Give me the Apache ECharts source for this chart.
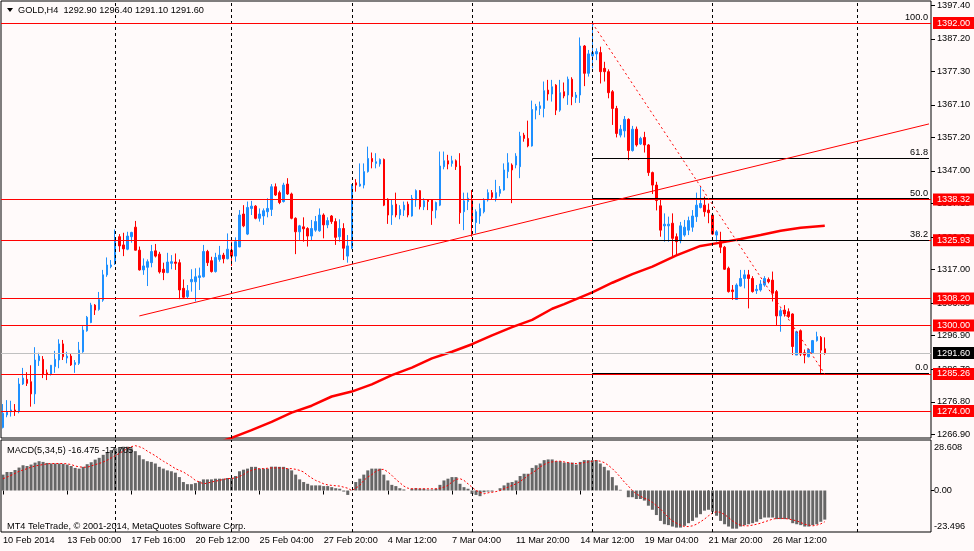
<!DOCTYPE html>
<html>
<head>
<meta charset="utf-8">
<title>GOLD,H4</title>
<script src="https://cdn.jsdelivr.net/npm/echarts@6.0.0/dist/echarts.min.js"></script>
<style>
  html, body { margin: 0; padding: 0; background: #FFFAFA; }
  #chart { width: 974px; height: 551px; }
</style>
</head>
<body>
<div id="chart"></div>
<script>
(function() {
  'use strict';

  var FONT = '"Liberation Sans", Arial, sans-serif';
  var FS = 9.2;
  var BAR_SLOTS = 232; // bars that fit in the window, data fills the first 206

  // H4 candles, [open, close, low, high]
  var ohlc = [
    [1269.0,1273.3,1268.7,1276.1],[1272.8,1273.8,1272.1,1277.3],[1273.8,1274.3,1272.3,1277.1],[1274.3,1273.9,1272.5,1276.1],
    [1273.8,1282.2,1273.3,1284.0],[1282.2,1284.0,1281.9,1287.1],[1283.6,1282.4,1281.6,1285.8],[1282.9,1279.2,1275.3,1287.9],
    [1279.2,1289.5,1276.1,1293.4],[1289.3,1290.7,1287.7,1291.7],[1289.7,1285.1,1284.0,1290.7],[1285.6,1285.2,1283.4,1286.6],
    [1285.2,1287.9,1284.8,1288.0],[1287.5,1289.7,1285.6,1292.3],[1289.5,1294.4,1287.0,1295.8],[1294.4,1290.5,1289.5,1295.6],
    [1290.1,1290.7,1288.5,1292.0],[1290.7,1288.0,1287.7,1291.5],[1288.1,1288.7,1285.6,1289.5],[1288.5,1292.5,1288.0,1295.0],
    [1292.0,1298.6,1291.7,1299.8],[1298.4,1302.5,1298.1,1302.9],[1300.9,1306.2,1300.7,1306.9],[1306.2,1304.7,1303.2,1306.5],
    [1304.9,1307.9,1304.5,1310.2],[1307.7,1315.4,1307.2,1316.9],[1315.4,1318.4,1314.8,1320.7],[1317.9,1318.4,1317.4,1319.9],
    [1318.7,1326.5,1318.4,1329.2],[1327.0,1324.2,1322.4,1327.8],[1324.5,1323.3,1321.1,1328.2],[1323.2,1327.2,1322.9,1328.5],
    [1327.0,1328.3,1325.2,1328.5],[1329.9,1322.9,1322.8,1331.8],[1322.9,1316.9,1316.7,1324.0],[1316.9,1318.1,1315.4,1320.4],
    [1317.7,1319.4,1312.0,1320.1],[1319.1,1322.5,1317.7,1324.5],[1322.7,1321.1,1320.7,1324.8],[1321.7,1316.3,1315.8,1322.4],
    [1317.1,1316.1,1313.8,1319.1],[1316.1,1319.3,1315.9,1322.1],[1318.9,1319.4,1317.1,1321.4],[1319.3,1318.9,1316.9,1321.9],
    [1319.1,1310.8,1308.0,1320.1],[1311.3,1308.6,1308.2,1314.0],[1308.8,1310.6,1308.2,1312.3],[1313.3,1314.0,1310.3,1317.1],
    [1313.3,1314.8,1307.3,1317.4],[1314.6,1315.1,1310.8,1317.6],[1314.8,1322.5,1314.6,1324.5],[1322.5,1319.1,1318.1,1323.0],
    [1319.7,1316.4,1316.1,1320.9],[1316.4,1320.7,1316.1,1322.1],[1320.1,1321.4,1319.4,1324.2],[1321.4,1320.3,1318.9,1322.1],
    [1320.3,1323.2,1320.1,1328.0],[1322.9,1321.1,1318.1,1325.5],[1321.1,1325.5,1319.4,1326.8],[1323.9,1333.6,1323.8,1335.1],
    [1333.9,1330.3,1329.9,1336.6],[1327.8,1335.9,1327.5,1337.7],[1335.6,1336.3,1333.6,1337.9],[1336.3,1332.6,1332.3,1336.6],
    [1332.6,1333.9,1331.6,1335.6],[1333.3,1334.9,1330.6,1335.6],[1334.6,1335.6,1332.9,1338.7],[1335.3,1342.2,1333.3,1343.0],
    [1342.2,1339.7,1339.4,1343.2],[1340.4,1337.4,1336.9,1341.0],[1337.7,1342.7,1337.4,1343.4],[1343.0,1340.0,1339.7,1344.8],
    [1340.0,1332.6,1332.3,1340.4],[1332.6,1328.5,1321.7,1332.9],[1328.5,1330.3,1326.0,1330.6],[1330.0,1329.4,1325.5,1332.9],
    [1329.5,1327.2,1324.0,1329.9],[1327.2,1329.5,1326.0,1332.1],[1329.0,1331.6,1328.5,1333.3],[1328.8,1333.6,1328.5,1335.6],
    [1333.6,1330.6,1326.5,1334.1],[1330.6,1331.9,1329.6,1332.9],[1333.3,1331.6,1330.9,1333.6],[1331.6,1326.8,1324.5,1332.6],
    [1327.0,1329.5,1325.5,1332.3],[1329.5,1323.5,1319.9,1331.1],[1321.1,1324.2,1319.1,1327.5],[1323.5,1342.7,1323.2,1343.0],
    [1343.4,1342.7,1340.7,1344.5],[1342.4,1343.0,1342.2,1349.3],[1342.7,1346.8,1341.7,1349.3],[1346.8,1350.8,1346.5,1354.4],
    [1350.8,1349.8,1347.8,1352.6],[1349.3,1349.8,1347.8,1352.4],[1349.1,1350.5,1348.3,1350.8],[1350.5,1336.6,1336.3,1350.8],
    [1338.4,1333.6,1330.9,1338.7],[1333.6,1336.6,1330.6,1338.2],[1336.9,1333.6,1332.9,1340.4],[1333.6,1335.3,1332.3,1336.6],
    [1335.1,1336.6,1333.3,1337.7],[1336.9,1333.6,1332.9,1337.7],[1333.3,1338.7,1333.1,1339.7],[1338.2,1341.0,1336.1,1341.4],
    [1341.0,1336.1,1335.3,1341.2],[1336.1,1337.9,1335.1,1338.7],[1338.2,1337.7,1335.1,1338.4],[1338.2,1334.9,1330.6,1338.4],
    [1335.1,1337.4,1332.6,1337.7],[1336.6,1348.5,1336.3,1352.9],[1348.3,1350.1,1347.5,1352.9],[1350.1,1349.1,1347.5,1351.9],
    [1349.3,1350.1,1348.3,1351.6],[1350.1,1348.3,1347.3,1350.5],[1348.5,1334.3,1330.9,1352.4],[1334.6,1337.9,1329.0,1340.4],
    [1337.7,1338.7,1335.1,1340.4],[1338.0,1331.6,1327.0,1341.2],[1331.3,1334.6,1328.0,1335.3],[1333.3,1335.6,1330.9,1337.1],
    [1334.6,1338.0,1334.1,1338.7],[1338.2,1340.4,1337.7,1341.4],[1340.4,1339.0,1338.2,1341.2],[1338.7,1340.4,1337.7,1344.3],
    [1340.2,1341.4,1339.2,1342.4],[1341.2,1347.3,1341.0,1349.3],[1346.8,1349.5,1344.8,1352.4],[1348.8,1347.3,1337.2,1349.3],
    [1348.8,1351.5,1347.8,1352.4],[1348.3,1357.6,1344.8,1358.9],[1357.9,1356.9,1355.9,1358.6],[1356.9,1354.6,1354.2,1362.3],
    [1354.6,1365.7,1354.4,1368.4],[1365.5,1366.6,1362.7,1367.4],[1366.0,1366.8,1364.0,1368.1],[1366.0,1371.4,1363.3,1374.2],
    [1371.6,1370.4,1368.4,1374.7],[1370.4,1372.6,1368.1,1374.7],[1373.1,1365.5,1364.0,1373.4],[1365.5,1370.8,1365.0,1374.7],
    [1371.1,1369.8,1369.1,1373.9],[1370.1,1374.9,1367.1,1375.7],[1374.9,1369.6,1367.0,1375.5],[1369.3,1370.1,1367.7,1371.0],
    [1370.1,1385.0,1367.7,1387.6],[1385.0,1376.7,1372.8,1385.3],[1376.7,1382.6,1375.7,1383.8],[1382.0,1383.0,1378.2,1392.0],
    [1382.6,1383.3,1380.7,1384.3],[1383.0,1377.2,1373.6,1384.8],[1378.2,1377.2,1374.2,1380.2],[1377.2,1370.8,1369.1,1377.9],
    [1371.1,1366.0,1361.0,1371.6],[1366.0,1358.4,1357.2,1366.8],[1357.9,1359.7,1357.2,1361.0],[1359.2,1362.7,1357.2,1363.7],
    [1362.7,1353.2,1350.3,1363.0],[1353.2,1359.7,1352.9,1360.7],[1359.7,1354.9,1354.4,1360.5],[1355.2,1356.9,1354.9,1357.4],
    [1357.2,1354.9,1352.6,1358.9],[1354.9,1346.5,1345.5,1355.2],[1346.5,1342.7,1340.0,1346.8],[1342.7,1338.0,1335.0,1343.7],
    [1336.4,1329.0,1327.0,1338.7],[1330.3,1330.8,1325.5,1334.1],[1330.3,1330.8,1325.5,1333.1],[1331.1,1326.5,1321.1,1334.1],
    [1327.0,1325.5,1321.4,1328.0],[1325.8,1330.3,1325.0,1331.5],[1327.5,1329.9,1327.0,1332.1],[1329.0,1331.9,1327.5,1333.1],
    [1329.9,1333.3,1328.5,1335.1],[1333.1,1336.6,1331.5,1340.4],[1335.9,1337.1,1335.6,1342.2],[1336.6,1334.6,1333.1,1339.2],
    [1335.1,1334.3,1331.1,1337.1],[1333.6,1327.8,1327.5,1334.1],[1327.5,1328.5,1325.5,1329.0],[1325.5,1323.8,1322.0,1328.5],
    [1323.8,1317.1,1316.9,1324.2],[1317.4,1310.3,1310.0,1317.9],[1310.8,1310.3,1307.8,1312.3],[1307.9,1312.3,1307.8,1312.8],
    [1312.0,1314.3,1311.8,1316.9],[1314.3,1315.4,1311.3,1316.9],[1315.4,1314.3,1305.2,1316.9],[1314.3,1310.3,1310.0,1315.0],
    [1310.6,1311.0,1309.6,1312.3],[1310.8,1312.6,1310.3,1313.8],[1312.3,1314.3,1311.8,1315.0],[1314.0,1313.3,1312.8,1314.6],
    [1313.8,1309.8,1307.3,1316.4],[1310.3,1302.9,1300.1,1310.8],[1302.9,1304.5,1298.1,1305.2],[1304.7,1303.5,1302.7,1306.2],
    [1304.2,1302.7,1302.2,1305.2],[1303.5,1293.6,1291.0,1303.7],[1291.0,1298.1,1291.0,1298.4],[1298.4,1291.3,1290.7,1298.8],
    [1291.7,1291.0,1288.5,1292.7],[1290.5,1292.7,1290.3,1293.0],[1291.7,1295.4,1291.3,1295.6],[1295.4,1296.6,1295.1,1298.1],
    [1296.4,1292.5,1285.5,1296.8],[1292.9,1291.6,1291.1,1296.4]
  ];

  // moving average: [bar, price]
  var maPoints = [
    [55,1265.0],[57,1265.8],[62,1268.2],[67,1270.7],[72,1273.5],[77,1275.6],[82,1278.4],[87,1279.9],
    [92,1282.1],[97,1284.9],[102,1287.2],[107,1290.0],[112,1292.0],[117,1294.3],[122,1297.0],[127,1299.5],
    [132,1301.7],[137,1305.1],[140,1306.5],[147,1310.1],[152,1313.0],[157,1315.6],[162,1317.9],[168,1321.3],
    [174,1324.2],[179,1325.2],[184,1326.3],[189,1327.5],[194,1328.8],[199,1329.7],[205,1330.3]
  ];

  // MACD(5,34,5) histogram and signal
  var macdHist = [
    9.0,10.5,10.5,11.6,13.0,14.3,13.9,14.7,15.8,16.6,
    16.2,15.6,15.3,15.3,15.3,15.1,14.7,13.9,12.8,12.4,
    13.4,14.9,16.0,17.5,18.5,20.2,21.7,22.9,23.9,24.2,
    24.8,24.8,23.9,22.3,20.0,17.7,16.6,16.2,15.3,13.4,
    12.4,11.4,10.9,10.1,7.6,4.8,3.6,3.6,4.2,5.2,
    6.3,6.3,6.3,6.7,6.7,6.7,7.1,7.1,8.2,10.9,
    11.8,12.4,13.4,13.4,12.4,12.4,12.4,13.5,13.5,13.4,
    13.4,12.4,11.4,9.0,6.3,4.8,3.8,2.9,2.9,2.9,
    2.5,2.5,1.9,1.3,1.0,-0.6,-2.5,0.2,4.8,6.7,
    9.0,11.4,12.4,12.4,12.4,9.0,5.7,3.2,2.5,1.3,
    0.6,0.0,1.0,1.3,1.0,1.0,0.6,0.6,1.0,3.2,
    5.7,6.7,7.6,7.6,3.8,1.9,1.0,-1.9,-2.5,-3.2,
    -1.0,-0.6,-0.6,0.0,1.3,2.9,4.4,4.8,5.7,8.2,
    9.5,9.5,12.8,14.3,15.3,17.2,17.6,17.6,16.6,16.6,
    15.8,15.8,15.8,14.7,16.2,17.2,17.2,17.2,17.2,15.3,
    13.4,11.4,7.6,2.9,0.4,0.0,-3.8,-3.8,-4.8,-4.8,
    -5.7,-8.6,-10.9,-13.9,-17.2,-19.1,-19.6,-20.4,-21.0,-21.0,
    -20.0,-18.5,-17.2,-15.3,-13.4,-11.4,-10.9,-12.0,-14.3,-17.2,
    -19.1,-20.4,-21.6,-21.6,-20.4,-19.6,-19.1,-18.5,-17.7,-16.2,
    -15.3,-15.3,-15.3,-16.2,-16.2,-16.2,-16.2,-18.5,-19.1,-19.6,
    -20.4,-20.4,-19.6,-19.1,-17.7,-16.475
  ];
  var macdSignal = [
    6.7,7.6,8.6,9.7,10.9,11.6,12.4,13.2,13.9,14.3,
    14.7,15.1,15.3,15.3,15.3,15.3,15.1,14.7,13.9,13.4,
    13.2,13.2,13.9,14.7,15.3,16.2,17.2,18.5,19.7,21.0,
    22.3,23.9,24.8,25.4,24.8,23.9,22.3,21.0,19.7,18.1,
    16.6,15.3,13.9,12.4,11.4,10.5,9.0,7.6,5.7,4.8,
    3.8,4.2,4.8,5.3,5.7,6.3,6.7,6.9,7.1,8.0,
    9.0,10.5,11.4,12.0,12.4,12.4,12.6,12.8,12.8,12.8,
    12.6,12.4,12.4,12.0,11.4,10.5,8.6,7.1,5.7,4.8,
    3.8,3.2,2.9,2.7,2.5,1.9,1.3,0.0,1.3,2.9,
    5.7,7.6,9.0,10.9,11.8,12.0,10.5,8.6,6.3,4.4,
    2.5,1.3,1.0,1.0,1.0,1.0,1.0,1.0,1.0,1.3,
    1.9,2.9,4.8,6.3,6.7,5.7,3.8,1.9,0.0,-1.0,
    -1.9,-1.3,-1.0,-0.6,0.0,1.0,1.9,2.9,3.8,5.2,
    6.7,8.6,10.1,11.4,13.4,14.7,15.8,16.2,16.6,16.6,
    16.2,15.8,15.3,15.3,15.3,15.8,16.2,16.6,17.0,16.6,
    15.8,14.3,12.4,10.1,7.6,4.8,2.5,0.0,-1.9,-3.2,
    -4.4,-5.2,-6.7,-8.6,-10.5,-12.8,-15.3,-17.2,-18.5,-19.6,
    -20.4,-20.4,-20.0,-19.1,-17.7,-16.2,-14.3,-12.8,-12.0,-12.4,
    -13.6,-15.3,-17.2,-18.7,-19.6,-20.0,-20.0,-19.6,-19.1,-18.5,
    -17.7,-17.0,-16.2,-15.8,-15.8,-15.8,-16.2,-16.6,-17.2,-18.1,
    -19.1,-19.6,-20.0,-19.6,-18.9,-17.705
  ];

  // axes
  var priceTicks = [1266.9, 1276.8, 1286.7, 1296.9, 1306.8, 1317.0, 1326.9, 1337.1, 1347.0, 1357.2, 1367.1, 1377.3, 1387.2, 1397.4];
  var macdTicks = [28.608, 0, -23.496];
  var timeTickBars = [0, 16, 32, 48, 64, 80, 96, 112, 128, 144, 160, 176, 192];
  var timeTickLabels = ['10 Feb 2014', '13 Feb 00:00', '17 Feb 16:00', '20 Feb 12:00', '25 Feb 04:00', '27 Feb 20:00',
    '4 Mar 12:00', '7 Mar 04:00', '11 Mar 20:00', '14 Mar 12:00', '19 Mar 04:00', '21 Mar 20:00', '26 Mar 12:00'];
  var weekBars = [28, 57, 87, 117, 147, 177, 213];

  // chart objects
  var levelPrices = [1392.00, 1338.32, 1325.93, 1308.20, 1300.00, 1285.26, 1274.00];
  var bidPrice = 1291.60;
  var fibNames = ['100.0', '61.8', '50.0', '38.2', '0.0'];
  var fibPrices = [1392.0, 1350.9, 1338.63, 1326.03, 1285.45];
  var fibStartBar = 147;
  var trendLine = [[34, 1302.9], [231, 1361.3]];
  var fibDiagonal = [[147, 1392.0], [205, 1285.26]];

  var cats = [];
  for (var i = 0; i < BAR_SLOTS; i++) cats.push(i);

  var tickIndex = {};
  timeTickBars.forEach(function(b, k) { tickIndex[b] = timeTickLabels[k]; });

  // ===== markLines =====
  var boxLabel = function(bg) {
    return {
      show: true, position: 'end', distance: 2,
      formatter: function(p) { return p.value.toFixed(2); },
      color: '#FFFFFF', backgroundColor: bg,
      padding: [1, 4, 0, 4], fontSize: FS, fontFamily: FONT, lineHeight: 11
    };
  };

  function fibLine(k) {
    return [
      {
        coord: [fibStartBar, fibPrices[k]],
        lineStyle: { color: '#000', type: 'solid', width: 1 },
        label: {
          show: true, position: 'insideEndTop', distance: 1, formatter: fibNames[k],
          color: '#000', fontSize: FS, fontFamily: FONT
        }
      },
      { coord: [BAR_SLOTS - 1, fibPrices[k]] }
    ];
  }

  var mainLines = [];
  weekBars.forEach(function(b) {
    mainLines.push({ xAxis: b, lineStyle: { color: '#000', type: [3, 3], width: 1 }, label: { show: false } });
  });
  mainLines.push(fibLine(0)); // the 100 level sits under the red 1392 line
  mainLines.push({ yAxis: bidPrice, lineStyle: { color: '#C0C0C0', type: 'solid', width: 1 }, label: boxLabel('#000000') });
  levelPrices.forEach(function(p) {
    mainLines.push({ yAxis: p, lineStyle: { color: '#FF0000', type: 'solid', width: 1 }, label: boxLabel('#FF0000') });
  });
  for (var k = 1; k < fibPrices.length; k++) mainLines.push(fibLine(k));
  mainLines.push([
    { coord: trendLine[0], lineStyle: { color: '#FF0000', type: 'solid', width: 1 }, label: { show: false } },
    { coord: trendLine[1] }
  ]);
  mainLines.push([
    { coord: fibDiagonal[0], lineStyle: { color: '#FF0000', type: [2, 3], width: 1 }, label: { show: false } },
    { coord: fibDiagonal[1] }
  ]);

  var macdLines = weekBars.map(function(b) {
    return { xAxis: b, lineStyle: { color: '#000', type: [3, 3], width: 1 }, label: { show: false } };
  });

  var last = ohlc[ohlc.length - 1];
  var headText = 'GOLD,H4  ' + [last[0], last[3], last[2], last[1]].map(function(v) { return v.toFixed(2); }).join(' ');
  var macdText = 'MACD(5,34,5) ' + macdHist[macdHist.length - 1].toFixed(3) + ' ' + macdSignal[macdSignal.length - 1].toFixed(3);

  var chart = echarts.init(document.getElementById('chart'), null, { renderer: 'canvas' });

  chart.setOption({
    animation: false,
    backgroundColor: '#FFFAFA',
    textStyle: { fontFamily: FONT },
    grid: [
      { left: 1, top: 1, width: 930, height: 437, show: true, borderColor: '#000', borderWidth: 1, backgroundColor: '#FFFAFA' },
      { left: 1, top: 440, width: 930, height: 92, show: true, borderColor: '#000', borderWidth: 1, backgroundColor: '#FFFAFA' }
    ],
    xAxis: [
      {
        type: 'category', gridIndex: 0, data: cats, boundaryGap: true,
        axisLine: { show: false }, axisTick: { show: false }, axisLabel: { show: false }, splitLine: { show: false }
      },
      {
        type: 'category', gridIndex: 1, data: cats, boundaryGap: true,
        axisLine: { show: false },
        axisTick: {
          show: true, alignWithLabel: true, length: 4, lineStyle: { color: '#000' },
          interval: function(idx) { return tickIndex[idx] !== undefined; }
        },
        axisLabel: {
          show: true, align: 'left', margin: 4, color: '#000', fontSize: FS, fontFamily: FONT,
          interval: function(idx) { return tickIndex[idx] !== undefined; },
          formatter: function(v, idx) { return tickIndex[idx] || ''; }
        },
        splitLine: { show: false }
      }
    ],
    yAxis: [
      {
        type: 'value', gridIndex: 0, position: 'right', min: 1265.78, max: 1398.69,
        axisLine: { show: false },
        axisTick: { show: true, length: 4, customValues: priceTicks, lineStyle: { color: '#000' } },
        axisLabel: {
          show: true, customValues: priceTicks, margin: 6, color: '#000', fontSize: FS, fontFamily: FONT,
          formatter: function(v) { return v.toFixed(2); }
        },
        splitLine: { show: false }
      },
      {
        type: 'value', gridIndex: 1, position: 'right', min: -23.496, max: 28.608,
        axisLine: { show: false },
        axisTick: { show: true, length: 3, customValues: [0], lineStyle: { color: '#000' } },
        axisLabel: {
          show: true, customValues: macdTicks, margin: 3, color: '#000', fontSize: FS, fontFamily: FONT,
          formatter: function(v) {
            if (v > 1) return '{t|' + v.toFixed(3) + '}';
            if (v < -1) return '{b|' + v.toFixed(3) + '}';
            return v.toFixed(2);
          },
          rich: {
            t: { padding: [14, 0, 0, 0], fontSize: FS, fontFamily: FONT, color: '#000' },
            b: { padding: [0, 0, 11, 0], fontSize: FS, fontFamily: FONT, color: '#000' }
          }
        },
        splitLine: { show: false }
      }
    ],
    series: [
      {
        name: 'overlays', type: 'line', xAxisIndex: 0, yAxisIndex: 0, data: [], z: 1,
        markLine: { silent: true, symbol: 'none', animation: false, data: mainLines }
      },
      {
        name: 'GOLD', type: 'candlestick', xAxisIndex: 0, yAxisIndex: 0, data: ohlc,
        barWidth: 2, z: 3,
        itemStyle: {
          color: '#1E90FF', color0: '#FF0000',
          borderColor: '#1E90FF', borderColor0: '#FF0000', borderWidth: 1
        }
      },
      {
        name: 'MA', type: 'line', xAxisIndex: 0, yAxisIndex: 0, data: maPoints,
        symbol: 'none', z: 4, clip: true,
        lineStyle: { color: '#FF0000', width: 2.5 }
      },
      {
        name: 'MACD', type: 'bar', xAxisIndex: 1, yAxisIndex: 1, data: macdHist,
        barWidth: 3, itemStyle: { color: '#666666' },
        markLine: { silent: true, symbol: 'none', animation: false, data: macdLines }
      },
      {
        name: 'Signal', type: 'line', xAxisIndex: 1, yAxisIndex: 1, data: macdSignal,
        symbol: 'none', z: 4,
        lineStyle: { color: '#FF0000', width: 1, type: [2, 2] }
      }
    ],
    graphic: [
      { type: 'polygon', z: 100, shape: { points: [[7, 8], [13, 8], [10, 12]] }, style: { fill: '#000' } },
      { type: 'text', z: 100, style: { x: 18, y: 10.5, text: headText, fill: '#000', font: FS + 'px ' + FONT, verticalAlign: 'middle' } },
      { type: 'text', z: 100, style: { x: 7, y: 450, text: macdText, fill: '#000', font: FS + 'px ' + FONT, verticalAlign: 'middle' } },
      { type: 'text', z: 100, style: { x: 7, y: 526, text: 'MT4 TeleTrade, \u00A9 2001-2014, MetaQuotes Software Corp.', fill: '#000', font: FS + 'px ' + FONT, verticalAlign: 'middle' } }
    ]
  });

  window.addEventListener('resize', function() { chart.resize(); });
})();
</script>
</body>
</html>
